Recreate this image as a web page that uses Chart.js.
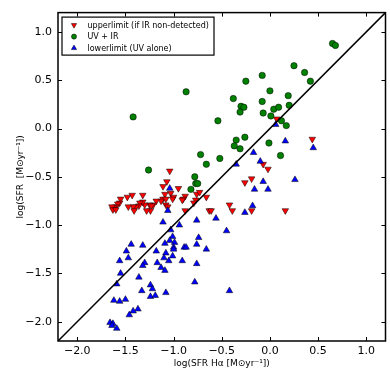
<!DOCTYPE html>
<html>
<head>
<meta charset="utf-8">
<script src="https://cdn.jsdelivr.net/npm/chart.js@4/dist/chart.umd.min.js"></script>
<style>
  html, body { margin: 0; padding: 0; background: #fff; }
  canvas { display: block; }
</style>
</head>
<body>
<canvas id="sfrChart" width="390" height="390"></canvas>
<script>
// SFR from Halpha (x) against SFR from UV/IR (y), log units

// upper limits (IR non-detected)
const upperX = [-1.04, -1.07, -1.11, -0.95, -1.03, -1.09, -1.00, -1.01, -1.11, -1.13,
    -1.08, -1.08, -1.06, -1.18, -1.21, -1.25, -1.23, -1.24, -1.28, -1.30,
    -1.32, -1.32, -1.35, -1.36, -1.39, -1.42, -1.41, -1.47, -1.43, -1.48,
    -1.55, -1.56, -1.58, -1.60, -1.62, -1.64, -1.63, -1.60,
    -0.88, -0.90, -0.91, -0.76, -0.73, -0.77, -0.79, -0.88, -0.66,
    -0.63, -0.61, -0.42, -0.39, -0.19, 0.16,
    -0.26, -0.19, -0.07, -0.02, 0.07, 0.44];
const upperY = [-0.44, -0.55, -0.60, -0.62, -0.67, -0.68, -0.71, -0.73, -0.73, -0.75,
    -0.73, -0.79, -0.81, -0.75, -0.79, -0.79, -0.80, -0.85, -0.85, -0.79,
    -0.76, -0.69, -0.77, -0.80, -0.81, -0.81, -0.85, -0.81, -0.69, -0.71,
    -0.73, -0.77, -0.78, -0.81, -0.82, -0.81, -0.84, -0.84,
    -0.70, -0.73, -0.74, -0.68, -0.66, -0.74, -0.77, -0.85, -0.71,
    -0.85, -0.85, -0.79, -0.85, -0.85, -0.85,
    -0.56, -0.52, -0.37, -0.42, 0.10, -0.11];

// UV + IR
const uvirX = [-0.87, -1.42, -1.26, -0.82, -0.78, -0.77, -0.75, 0.65, 0.68, 0.25,
    -0.08, 0.36, -0.25, 0.42, 0.00, -0.38, -0.08, 0.19, -0.30, -0.27,
    -0.31, 0.04, 0.09, 0.20, -0.07, 0.01, -0.54, 0.12, 0.17, -0.26,
    -0.35, -0.37, -0.31, -0.01, -0.72, -0.52, -0.66, 0.11];
const uvirY = [0.38, 0.12, -0.43, -0.63, -0.50, -0.57, -0.57, 0.88, 0.86, 0.65,
    0.55, 0.58, 0.49, 0.49, 0.39, 0.31, 0.28, 0.34, 0.23, 0.22,
    0.17, 0.20, 0.22, 0.24, 0.16, 0.13, 0.08, 0.08, 0.03, -0.09,
    -0.12, -0.18, -0.21, -0.15, -0.27, -0.31, -0.37, -0.28];

// lower limits (UV alone)
const lowerX = [-1.04, -1.06, -1.11, -0.94, -1.03, -1.01, -1.04, -0.99, -1.09, -1.00,
    -1.00, -0.89, -0.87, -1.44, -1.32, -1.18, -1.08, -1.01, -1.49, -1.10,
    -1.05, -0.91, -1.47, -1.56, -1.30, -1.32, -1.17, -1.13, -1.09, -1.55,
    -1.36, -1.59, -1.24, -1.22, -1.33, -1.08, -1.24, -1.19, -1.62, -1.56,
    -1.50, -1.37, -1.42, -1.46, -1.66, -1.63, -1.64, -1.59, -0.78, -0.18,
    -0.26, -0.56, -0.76, -0.45, -0.74, -0.76, -0.66, -0.76, -0.42, -0.10,
    -0.35, 0.26, -0.07, -0.16, -0.02, 0.16, 0.45, -0.17, 0.06];
const lowerY = [-0.62, -0.85, -0.97, -1.00, -1.05, -1.12, -1.16, -1.18, -1.19, -1.23,
    -1.25, -1.23, -1.23, -1.20, -1.21, -1.27, -1.29, -1.32, -1.27, -1.34,
    -1.37, -1.37, -1.34, -1.37, -1.39, -1.42, -1.39, -1.44, -1.47, -1.50,
    -1.54, -1.61, -1.62, -1.66, -1.68, -1.70, -1.74, -1.73, -1.78, -1.79,
    -1.77, -1.87, -1.89, -1.93, -2.01, -2.02, -2.04, -2.07, -1.59, -0.80,
    -0.87, -0.93, -0.95, -1.06, -1.13, -1.20, -1.25, -1.40, -1.68, -0.34,
    -0.37, -0.53, -0.55, -0.63, -0.63, -0.13, -0.20, -0.25, 0.04];

// 1:1 line and axes
const oneToOne = [-2.2, 1.2];
const axisMin = -2.2;
const axisMax = 1.2;
const tickValues = [-2.0, -1.5, -1.0, -0.5, 0.0, 0.5, 1.0];

const toPoints = (xs, ys) => xs.map((x, i) => ({ x, y: ys[i] }));
const fmtTick = v => (v < 0 ? '\u2212' : '') + Math.abs(v).toFixed(1);
const font = 'DejaVu Sans';

// inward ticks on all four sides plus the frame, matplotlib style
const framePlugin = {
    id: 'frame',
    afterDraw(chart) {
        const { ctx, chartArea: a, scales: { x, y } } = chart;
        const len = 4;
        ctx.save();
        ctx.strokeStyle = '#000';
        ctx.lineWidth = 1;
        ctx.beginPath();
        x.ticks.forEach(t => {
            const px = Math.round(x.getPixelForValue(t.value)) + 0.5;
            ctx.moveTo(px, a.bottom); ctx.lineTo(px, a.bottom - len);
            ctx.moveTo(px, a.top); ctx.lineTo(px, a.top + len);
        });
        y.ticks.forEach(t => {
            const py = Math.round(y.getPixelForValue(t.value)) + 0.5;
            ctx.moveTo(a.left, py); ctx.lineTo(a.left + len, py);
            ctx.moveTo(a.right, py); ctx.lineTo(a.right - len, py);
        });
        ctx.stroke();
        ctx.lineWidth = 1.5;
        ctx.strokeRect(a.left, a.top, a.right - a.left, a.bottom - a.top);
        ctx.restore();
    }
};

// boxed legend in the upper left corner of the axes
const legendBox = {
    id: 'legendBox',
    afterDraw(chart) {
        const { ctx, chartArea: a } = chart;
        const items = chart.data.datasets.filter(d => d.legendRank !== undefined)
            .sort((p, q) => p.legendRank - q.legendRank);
        const bx = a.left + 4, by = a.top + 4.5;
        ctx.save();
        ctx.fillStyle = '#fff';
        ctx.fillRect(bx, by, 152, 38);
        ctx.strokeStyle = '#000';
        ctx.lineWidth = 1.2;
        ctx.strokeRect(bx, by, 152, 38);
        ctx.font = '8px "' + font + '"';
        ctx.textBaseline = 'middle';
        items.forEach((d, i) => {
            const cy = by + 8 + i * 11.5;
            ctx.fillStyle = d.backgroundColor;
            ctx.strokeStyle = d.borderColor;
            ctx.lineWidth = d.borderWidth;
            Chart.helpers.drawPoint(ctx, {
                pointStyle: d.pointStyle,
                rotation: d.rotation || 0,
                radius: d.pointRadius * 0.8,
                borderWidth: d.borderWidth
            }, bx + 12, cy);
            ctx.fillStyle = '#000';
            ctx.fillText(d.label, bx + 25.5, cy + 0.5);
        });
        ctx.restore();
    }
};

new Chart(document.getElementById('sfrChart'), {
    type: 'scatter',
    data: {
        datasets: [
            {
                type: 'line',
                label: '1:1',
                data: toPoints(oneToOne, oneToOne),
                borderColor: '#000',
                borderWidth: 1.5,
                pointRadius: 0,
                fill: false,
                order: 0
            },
            {
                label: 'lowerlimit (UV alone)',
                data: toPoints(lowerX, lowerY),
                pointStyle: 'triangle',
                pointRadius: 3.8,
                backgroundColor: '#0000ff',
                borderColor: '#000',
                borderWidth: 0.5,
                legendRank: 2,
                order: 1
            },
            {
                label: 'UV + IR',
                data: toPoints(uvirX, uvirY),
                pointStyle: 'circle',
                pointRadius: 3.2,
                backgroundColor: '#008000',
                borderColor: '#000',
                borderWidth: 0.5,
                legendRank: 1,
                order: 2
            },
            {
                label: 'upperlimit (if IR non-detected)',
                data: toPoints(upperX, upperY),
                pointStyle: 'triangle',
                rotation: 180,
                pointRadius: 3.8,
                backgroundColor: '#ff0000',
                borderColor: '#000',
                borderWidth: 0.5,
                legendRank: 0,
                order: 3
            }
        ]
    },
    options: {
        responsive: false,
        animation: false,
        layout: { padding: { top: 12, right: 4, left: 0, bottom: 0 } },
        plugins: {
            legend: { display: false },
            tooltip: { enabled: false }
        },
        scales: {
            x: {
                type: 'linear',
                min: axisMin,
                max: axisMax,
                afterBuildTicks: scale => { scale.ticks = tickValues.map(v => ({ value: v })); },
                afterFit: scale => { scale.height = 49; },
                grid: { display: false, drawTicks: false },
                border: { display: false },
                ticks: {
                    color: '#000',
                    padding: 4,
                    maxRotation: 0,
                    font: { family: font, size: 11 },
                    callback: v => fmtTick(v)
                },
                title: {
                    display: true,
                    text: 'log(SFR H\u03b1 [M\u2299yr\u207b\u00b9])',
                    color: '#000',
                    font: { family: font, size: 9 },
                    padding: { top: 0, bottom: 21 }
                }
            },
            y: {
                type: 'linear',
                min: axisMin,
                max: axisMax,
                afterBuildTicks: scale => { scale.ticks = tickValues.map(v => ({ value: v })); },
                afterFit: scale => { scale.width = 58; },
                grid: { display: false, drawTicks: false },
                border: { display: false },
                ticks: {
                    color: '#000',
                    padding: 6,
                    font: { family: font, size: 11 },
                    callback: v => fmtTick(v)
                },
                title: {
                    display: true,
                    text: 'log(SFR  [M\u2299yr\u207b\u00b9])',
                    color: '#000',
                    font: { family: font, size: 9 },
                    padding: { top: 15, bottom: 0 }
                }
            }
        }
    },
    plugins: [framePlugin, legendBox]
});
</script>
</body>
</html>
